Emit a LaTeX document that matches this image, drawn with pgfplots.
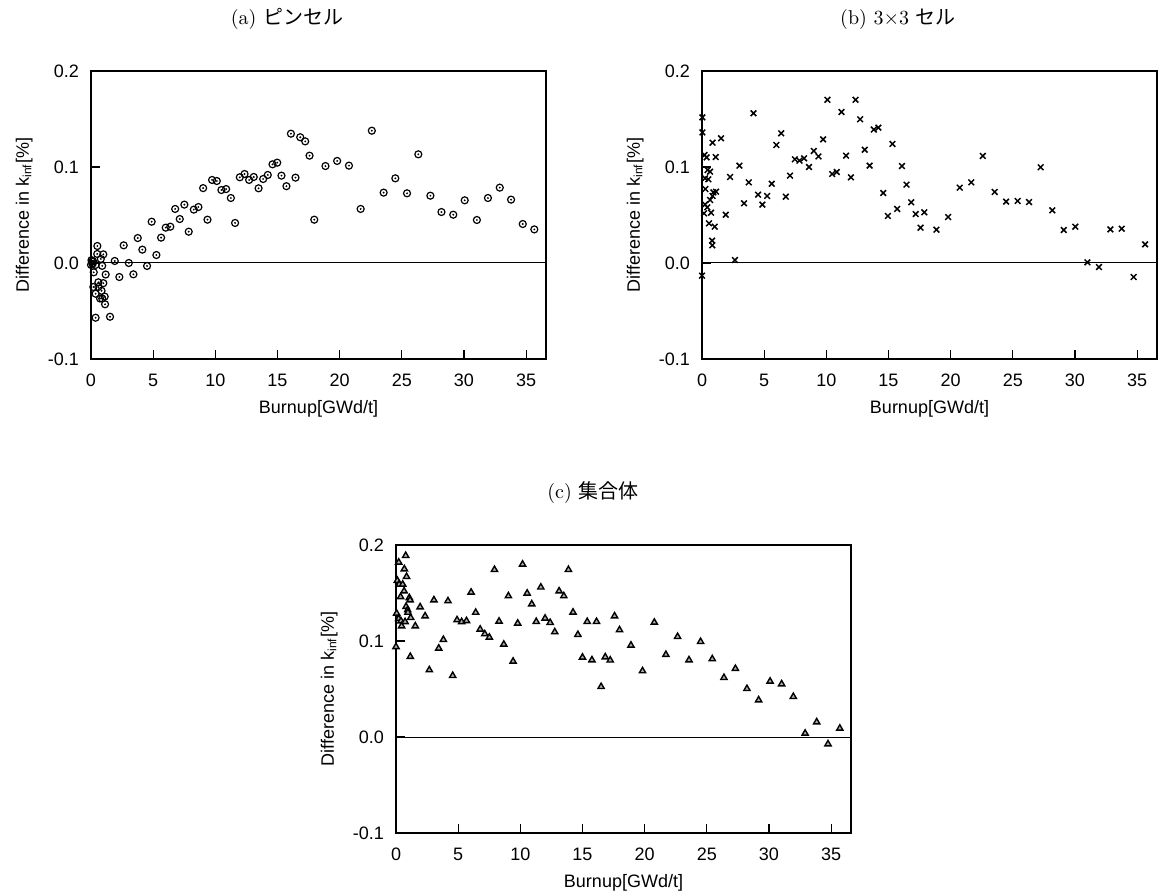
\documentclass[border=0pt]{standalone}
\usepackage{fontspec}
\usepackage{pgfplots}
\pgfplotsset{compat=1.18}
\newfontfamily\arial{Liberation Sans}
\newfontfamily\cjk{Noto Sans CJK JP}

\pgfdeclareplotmark{odot}{%
  \pgfpathcircle{\pgfpointorigin}{\pgfplotmarksize}\pgfusepathqstroke
  \pgfpathcircle{\pgfpointorigin}{0.3\pgfplotmarksize}\pgfusepathqfill}

\pgfplotstableread{
x y
0.00 -0.002
0.04 0.003
0.12 -0.001
0.08 0.0015
0.16 0.002
0.22 -0.0097
0.19 -0.025
0.37 -0.002
0.37 -0.032
0.37 -0.057
0.50 0.0094
0.51 0.0177
0.59 -0.0201
0.59 -0.025
0.73 -0.037
0.79 0.0042
0.85 -0.029
0.90 -0.003
0.90 -0.037
0.99 0.009
0.99 -0.021
1.10 -0.035
1.13 -0.043
1.18 -0.012
1.53 -0.056
1.91 0.0021
2.28 -0.0146
2.63 0.0184
3.04 0.0
3.41 -0.0118
3.76 0.026
4.13 0.0139
4.51 -0.0031
4.88 0.043
5.26 0.0083
5.64 0.0264
6.01 0.0368
6.38 0.0378
6.77 0.0563
7.14 0.0458
7.51 0.0608
7.86 0.0326
8.27 0.0556
8.64 0.0583
9.02 0.078
9.37 0.0451
9.74 0.0865
10.12 0.0854
10.49 0.076
10.87 0.077
11.25 0.0677
11.59 0.0417
11.97 0.0893
12.35 0.0927
12.72 0.0865
13.09 0.0896
13.48 0.0778
13.85 0.0875
14.22 0.0917
14.60 0.1028
14.98 0.1045
15.32 0.091
15.72 0.080
16.08 0.1347
16.45 0.0889
16.83 0.131
17.23 0.1267
17.58 0.1118
17.96 0.0451
18.86 0.101
19.80 0.1063
20.75 0.1014
21.69 0.0563
22.59 0.1378
23.54 0.0733
24.48 0.0882
25.42 0.0726
26.33 0.1132
27.30 0.0701
28.19 0.0531
29.14 0.0503
30.06 0.0653
31.04 0.0448
31.93 0.0677
32.88 0.0785
33.79 0.066
34.73 0.0406
35.66 0.035
}\pin

\pgfplotstableread{
x y
0.03 0.1517
0.03 0.136
0.00 -0.0132
0.20 0.1125
0.37 0.110
1.10 0.1104
0.85 0.1253
1.53 0.1299
0.45 0.0969
0.65 0.0951
0.25 0.0882
0.51 0.0872
0.27 0.0771
0.91 0.0736
1.13 0.0743
0.85 0.0698
0.65 0.0656
0.25 0.061
0.43 0.058
0.16 0.0517
0.73 0.0524
0.56 0.0413
1.02 0.0378
0.81 0.0233
0.83 0.0184
1.91 0.0503
2.26 0.0896
2.65 0.0031
3.01 0.1014
3.38 0.0622
3.76 0.084
4.14 0.156
4.51 0.0712
4.86 0.0608
5.24 0.0698
5.61 0.0826
5.98 0.1229
6.37 0.1351
6.74 0.0691
7.08 0.091
7.47 0.108
7.84 0.1066
8.21 0.109
8.61 0.100
8.99 0.1167
9.37 0.111
9.74 0.1288
10.09 0.170
10.47 0.0927
10.84 0.0948
11.22 0.1573
11.59 0.1118
11.98 0.0892
12.35 0.170
12.72 0.1497
13.09 0.118
13.48 0.1014
13.82 0.139
14.19 0.141
14.58 0.0729
14.95 0.049
15.32 0.124
15.70 0.0563
16.08 0.101
16.45 0.0816
16.83 0.0632
17.19 0.051
17.58 0.0368
17.88 0.0528
18.86 0.0347
19.80 0.0479
20.73 0.0785
21.66 0.084
22.59 0.1115
23.54 0.074
24.46 0.0639
25.39 0.0646
26.31 0.0635
27.24 0.0997
28.18 0.0549
29.10 0.0344
30.03 0.0378
31.00 0.0007
31.93 -0.0042
32.85 0.035
33.76 0.0357
34.72 -0.0146
35.64 0.0194
}\cell

\pgfplotstableread{
x y
0.78 0.1889
0.22 0.182
0.67 0.175
0.85 0.167
0.11 0.163
0.25 0.159
0.54 0.159
0.65 0.152
0.37 0.146
1.07 0.145
1.13 0.1427
0.81 0.1358
0.94 0.1323
0.96 0.1297
0.05 0.1288
1.18 0.1243
0.22 0.1233
0.40 0.1208
0.73 0.120
0.45 0.1156
1.55 0.1156
0.00 0.094
1.15 0.0837
1.94 0.1354
2.34 0.126
2.68 0.0698
3.05 0.1427
3.44 0.0924
3.81 0.1014
4.18 0.1417
4.56 0.0639
4.91 0.1219
5.28 0.120
5.67 0.121
6.04 0.1507
6.41 0.1297
6.77 0.1122
7.14 0.1073
7.51 0.1038
7.92 0.1743
8.29 0.1205
8.67 0.0965
9.04 0.1469
9.42 0.0788
9.79 0.1184
10.18 0.1799
10.55 0.1497
10.92 0.1385
11.28 0.1201
11.65 0.156
11.99 0.1236
12.40 0.1191
12.77 0.1094
13.12 0.152
13.50 0.1469
13.87 0.1743
14.24 0.1299
14.63 0.1066
15.00 0.083
15.38 0.1201
15.76 0.0802
16.13 0.1201
16.50 0.0524
16.83 0.0833
17.23 0.080
17.58 0.126
17.98 0.1115
18.90 0.0955
19.83 0.0688
20.78 0.1194
21.71 0.0858
22.65 0.1045
23.57 0.0802
24.50 0.0993
25.44 0.0813
26.38 0.0618
27.30 0.0712
28.23 0.0503
29.17 0.0385
30.09 0.058
31.02 0.0552
31.96 0.042
32.91 0.0038
33.84 0.0156
34.75 -0.0073
35.70 0.009
}\assembly

\pgfplotsset{
  myaxis/.style={
    scale only axis, width=227.5pt, height=144pt,
    xmin=0, xmax=36.6, ymin=-0.1, ymax=0.2,
    xtick={0,5,...,35}, ytick={-0.1,0,0.1,0.2},
    tick align=inside, xtick pos=bottom, ytick pos=left,
    major tick length=4.5pt,
    axis line style={line width=0.8pt},
    every tick/.style={black, line width=0.6pt},
    font=\arial\fontsize{9}{11}\selectfont,
    /pgf/number format/assume math mode=true,
    yticklabel style={/pgf/number format/fixed, /pgf/number format/fixed zerofill, /pgf/number format/precision=1, xshift=-2.5pt},
    xticklabel style={yshift=-4pt},
    xlabel={Burnup[GWd/t]},
    ylabel={Difference in k\textsubscript{inf}[\%]},
    every axis x label/.style={at={(axis description cs:0.5,-0.1736)}, anchor=center},
    every axis y label/.style={at={(axis description cs:-0.147,0.5)}, rotate=90, anchor=center},
    anchor=south west,
  }
}

\begin{document}
\begin{tikzpicture}
\useasboundingbox (0,0) rectangle (580.5pt,447pt);

\node[font=\fontsize{10}{12}\selectfont] at (143.5pt,437.5pt) {(a) {\cjk ピンセル}};
\node[font=\fontsize{10}{12}\selectfont] at (449pt,437.5pt) {(b) $3{\times}3$ {\cjk セル}};
\node[font=\fontsize{10}{12}\selectfont] at (296.5pt,200.5pt) {(c) {\cjk 集合体}};

\begin{axis}[myaxis, at={(45.5pt,267.5pt)}]
\addplot[black, line width=0.5pt] coordinates {(0,0) (36.6,0)};
\addplot[only marks, mark=odot, mark size=1.75pt, mark options={black, line width=0.6pt}] table[x=x,y=y] {\pin};
\end{axis}

\begin{axis}[myaxis, at={(351pt,267.5pt)}]
\addplot[black, line width=0.5pt] coordinates {(0,0) (36.6,0)};
\addplot[only marks, mark=x, mark size=2pt, mark options={black, line width=0.75pt}] table[x=x,y=y] {\cell};
\end{axis}

\begin{axis}[myaxis, at={(198pt,30.5pt)}]
\addplot[black, line width=0.5pt] coordinates {(0,0) (36.6,0)};
\addplot[only marks, mark=triangle*, mark size=1.8pt, mark options={draw=black, fill=gray!65, line width=0.7pt}] table[x=x,y=y] {\assembly};
\end{axis}
\end{tikzpicture}
\end{document}
